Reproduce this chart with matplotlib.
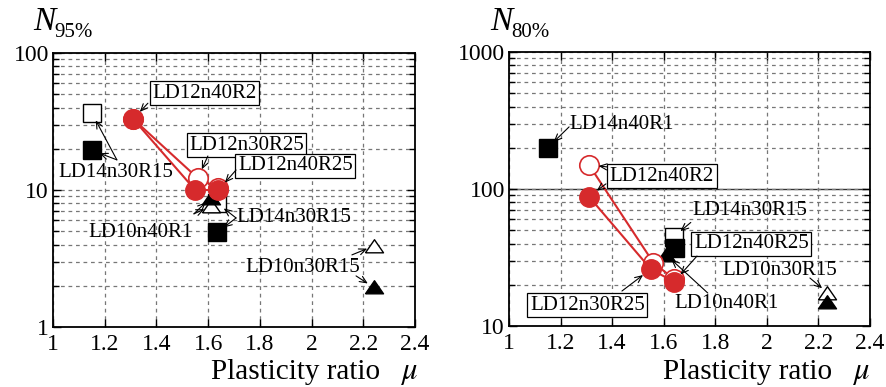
import matplotlib
matplotlib.use("Agg")
import matplotlib.pyplot as plt
from matplotlib.ticker import LogLocator, NullFormatter, FixedLocator, FuncFormatter

# ---------------- data ----------------
mu_red_open = [1.31, 1.56, 1.64]
mu_red_filled = [1.31, 1.55, 1.64]
n95_red_open = [33, 12.2, 10.3]
n95_red_filled = [33, 10, 10]
n80_red_open = [150, 29, 22]
n80_red_filled = [88, 26, 21]

mu_sq_open95 = [1.15, 1.635]
n95_sq_open = [36.5, 8.0]
mu_sq_filled95 = [1.15, 1.635]
n95_sq_filled = [19.5, 4.9]
mu_tri_open95 = [1.61, 2.24]
n95_tri_open = [7.6, 3.9]
mu_tri_filled95 = [1.61, 2.24]
n95_tri_filled = [8.8, 1.95]

mu_sq_open80 = [1.64]
n80_sq_open = [45]
mu_sq_filled80 = [1.15, 1.645]
n80_sq_filled = [200, 37]
mu_tri_open80 = [2.235]
n80_tri_open = [17.5]
mu_tri_filled80 = [1.61, 2.235]
n80_tri_filled = [33, 15]

x_ticks = [1, 1.2, 1.4, 1.6, 1.8, 2, 2.2, 2.4]
x_ticklabels = ["1", "1.2", "1.4", "1.6", "1.8", "2", "2.2", "2.4"]

RED = "#d62a2c"
SERIF = "Liberation Serif"
plt.rcParams["font.family"] = [SERIF, "DejaVu Serif"]
plt.rcParams["mathtext.fontset"] = "stix"

TRI = [(-1, -0.7), (1, -0.7), (0, 0.75), (-1, -0.7)]

fig = plt.figure(figsize=(8.87, 3.87), dpi=100)
axL = fig.add_axes([53/887, 1-327/387, (415-53)/887, (327-53)/387])
axR = fig.add_axes([509/887, 1-326/387, (870-509)/887, (326-52)/387])


def style_axes(ax, ylo, yhi, solid_mid=None):
    ax.set_xscale("linear")
    ax.set_yscale("log")
    ax.set_xlim(1, 2.4)
    ax.set_ylim(ylo, yhi)
    ax.xaxis.set_major_locator(FixedLocator(x_ticks))
    ax.set_xticklabels(x_ticklabels)
    ax.yaxis.set_major_locator(LogLocator(base=10, numticks=10))
    ax.yaxis.set_minor_locator(LogLocator(base=10, subs=range(2, 10), numticks=20))
    ax.yaxis.set_minor_formatter(NullFormatter())
    ax.yaxis.set_major_formatter(FuncFormatter(lambda v, p: "%d" % round(v)))
    ax.tick_params(which="both", direction="in", top=True, right=True,
                   labelsize=17, width=1.0)
    ax.tick_params(which="major", length=6)
    ax.tick_params(which="minor", length=4)
    ax.tick_params(axis="x", pad=5)
    ax.tick_params(axis="y", pad=3)
    for s in ax.spines.values():
        s.set_linewidth(1.3)
    gk = dict(color="#777777", linestyle=(0, (3, 3)), linewidth=0.9)
    ax.grid(True, which="major", axis="x", **gk)
    ax.grid(True, which="minor", axis="y", **gk)
    ax.grid(True, which="major", axis="y", **gk)
    ax.set_axisbelow(True)
    if solid_mid is not None:
        ax.axhline(solid_mid, color="#333333", lw=1.0, zorder=0.5)


style_axes(axL, 1, 100)
style_axes(axR, 10, 1000, solid_mid=100)

arrowkw = dict(arrowstyle="->,head_length=0.5,head_width=0.22", color="black",
               lw=0.8, shrinkA=0)
boxkw = dict(boxstyle="square,pad=0.12", fc="white", ec="black", lw=0.9)


def plot_set(ax, ro, rf, so_x, so, sf_x, sf, to_x, to, tf_x, tf):
    ax.plot(so_x, so, ls="none", marker="s", ms=12.5, mfc="white", mec="black",
            mew=1.0, zorder=2)
    ax.plot(sf_x, sf, ls="none", marker="s", ms=12.5, mfc="black", mec="black",
            zorder=2.2)
    ax.plot(to_x, to, ls="none", marker=TRI, ms=13, mfc="white", mec="black",
            mew=1.0, zorder=2.4)
    ax.plot(tf_x, tf, ls="none", marker=TRI, ms=13, mfc="black", mec="black",
            zorder=2.6)
    ax.plot(mu_red_open, ro, color=RED, lw=1.5, marker="o", ms=14,
            mfc="white", mec=RED, mew=1.2, zorder=3)
    ax.plot(mu_red_filled, rf, color=RED, lw=1.5, marker="o", ms=14,
            mfc=RED, mec=RED, zorder=4)


plot_set(axL, n95_red_open, n95_red_filled, mu_sq_open95, n95_sq_open,
         mu_sq_filled95, n95_sq_filled, mu_tri_open95, n95_tri_open,
         mu_tri_filled95, n95_tri_filled)
plot_set(axR, n80_red_open, n80_red_filled, mu_sq_open80, n80_sq_open,
         mu_sq_filled80, n80_sq_filled, mu_tri_open80, n80_tri_open,
         mu_tri_filled80, n80_tri_filled)


def label(ax, txt, x, y, boxed=False, ha="left"):
    ax.text(x, y, txt, fontsize=15, ha=ha, va="center", zorder=6,
            bbox=boxkw if boxed else None)


def arrow(ax, start, target, shrink=7):
    ax.annotate("", xy=target, xytext=start,
                arrowprops=dict(shrinkB=shrink, **arrowkw), zorder=7)


# ---------- left annotations ----------
label(axL, "LD12n40R2", 1.383, 51, boxed=True)
arrow(axL, (1.367, 43), (mu_red_filled[0], n95_red_filled[0]))

label(axL, "LD14n30R15", 1.019, 13.5)
arrow(axL, (1.247, 16.6), (mu_sq_open95[0], n95_sq_open[0]), 6)
arrow(axL, (1.247, 16.6), (mu_sq_filled95[0], n95_sq_filled[0]), 6)

label(axL, "LD12n30R25", 1.526, 21.3, boxed=True)
arrow(axL, (1.599, 17.7), (mu_red_open[1], n95_red_open[1]))

label(axL, "LD12n40R25", 1.715, 15, boxed=True)
arrow(axL, (1.708, 14), (mu_red_filled[2], n95_red_filled[2]))

label(axL, "LD10n40R1", 1.541, 4.93, ha="right")
arrow(axL, (1.545, 6.7), (mu_tri_filled95[0], n95_tri_filled[0]), 5)
arrow(axL, (1.545, 6.7), (mu_tri_open95[0], n95_tri_open[0]), 5)

label(axL, "LD14n30R15", 1.711, 6.35)
arrow(axL, (1.708, 6.25), (mu_sq_open95[1], n95_sq_open[1]), 6)
arrow(axL, (1.708, 6.25), (mu_sq_filled95[1], n95_sq_filled[1]), 6)

label(axL, "LD10n30R15", 2.187, 2.7, ha="right")
arrow(axL, (2.156, 3.36), (mu_tri_open95[1], n95_tri_open[1]), 5)
arrow(axL, (2.172, 2.36), (mu_tri_filled95[1], n95_tri_filled[1]), 5)

# ---------- right annotations ----------
label(axR, "LD14n40R1", 1.233, 298)
arrow(axR, (1.233, 284), (mu_sq_filled80[0], n80_sq_filled[0]), 6)

label(axR, "LD12n40R2", 1.391, 124, boxed=True)
arrow(axR, (1.38, 145), (mu_red_open[0], n80_red_open[0]))
arrow(axR, (1.376, 109), (mu_red_filled[0], n80_red_filled[0]))

label(axR, "LD14n30R15", 1.713, 70)
arrow(axR, (1.705, 57), (mu_sq_open80[0], n80_sq_open[0]), 6)

label(axR, "LD12n40R25", 1.717, 39.7, boxed=True)
arrow(axR, (1.729, 32.4), (mu_red_filled[2], n80_red_filled[2]))

label(axR, "LD10n30R15", 1.826, 25.6)
arrow(axR, (2.167, 22.4), (mu_tri_open80[0], n80_tri_open[0]), 5)

label(axR, "LD10n40R1", 1.643, 14.5)
arrow(axR, (1.771, 17.4), (mu_tri_filled80[0], n80_tri_filled[0]), 5)

label(axR, "LD12n30R25", 1.081, 14.2, boxed=True)
arrow(axR, (1.438, 18), (mu_red_filled[1], n80_red_filled[1]))

# ---------- axis titles ----------
for (xN, sub) in [(33, "95%"), (490, "80%")]:
    fig.text(xN/887, 1-30/387, "N", fontsize=24, style="italic",
             ha="left", va="baseline")
    fig.text((xN+21)/887, 1-37/387, sub, fontsize=15, ha="left", va="baseline")

for (xr) in [418, 870]:
    fig.text(xr/887, 1-379/387, r"$\mu$", fontsize=22, ha="right", va="baseline")
    fig.text((xr-38)/887, 1-379/387, "Plasticity ratio", fontsize=21,
             ha="right", va="baseline")

fig.savefig("out.png", dpi=100)
